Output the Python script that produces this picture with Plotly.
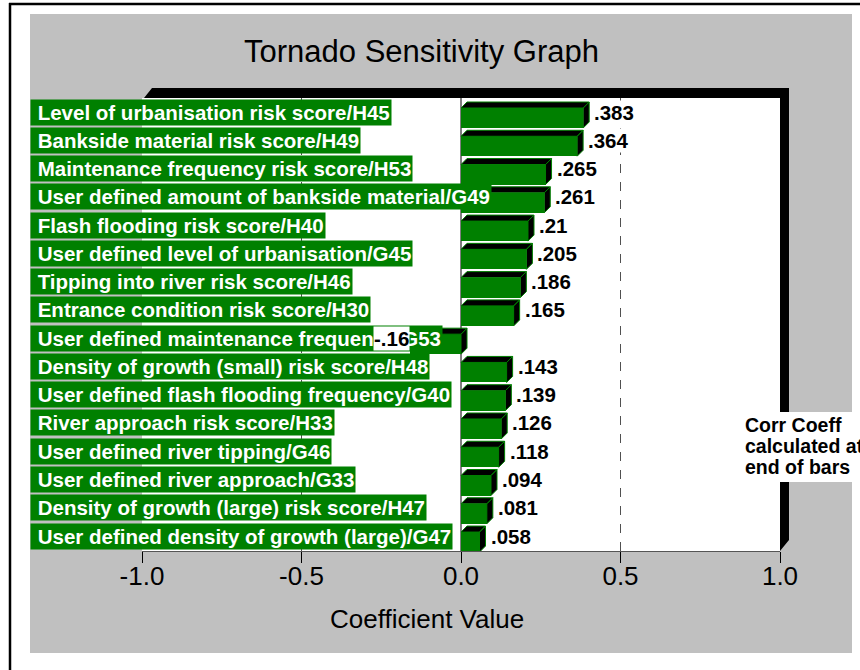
import plotly.graph_objects as go

# ---------------- data ----------------
labels = [
    "Level of urbanisation risk score/H45",
    "Bankside material risk score/H49",
    "Maintenance frequency risk score/H53",
    "User defined amount of bankside material/G49",
    "Flash flooding risk score/H40",
    "User defined level of urbanisation/G45",
    "Tipping into river risk score/H46",
    "Entrance condition risk score/H30",
    "User defined maintenance frequency/G53",
    "Density of growth (small) risk score/H48",
    "User defined flash flooding frequency/G40",
    "River approach risk score/H33",
    "User defined river tipping/G46",
    "User defined river approach/G33",
    "Density of growth (large) risk score/H47",
    "User defined density of growth (large)/G47",
]
values = [0.383, 0.364, 0.265, 0.261, 0.21, 0.205, 0.186, 0.165,
          -0.16, 0.143, 0.139, 0.126, 0.118, 0.094, 0.081, 0.058]
tick_vals = [-1.0, -0.5, 0.0, 0.5, 1.0]
tick_text = ["-1.0", "-0.5", "0.0", "0.5", "1.0"]
title_text = "Tornado Sensitivity Graph"
axis_title = "Coefficient Value"
note_lines = ["Corr Coeff", "calculated at", "end of bars"]

# ---------------- geometry / style ----------------
W, H = 860, 670
L, R, T, B = 142, 780, 98, 551          # plot area in pixels
GREEN = "#008000"
GRAY = "#C0C0C0"
FONT = "Arial, Liberation Sans, sans-serif"


def px(x):
    return (x - L) / (R - L)


def py(y):
    return (B - y) / (B - T)


n = len(labels)
idx = list(range(n))
row0, pitch = 112, 28.27
y_top = (T - row0) / pitch
y_bot = (B - row0) / pitch

xu = 2.0 / (R - L)          # x units per pixel
dx = 6 * xu
dy = 6 / pitch
bar_off = -4 / pitch
bar_w = 20 / pitch


def fmt(v):
    s = f"{v:.3g}"
    return s.replace("0.", ".", 1) if s.startswith(("0.", "-0.")) else s


fig = go.Figure()

# front faces
fig.add_trace(go.Bar(
    y=idx, x=values, orientation="h", width=bar_w, offset=bar_off,
    marker=dict(color=GREEN, line=dict(width=0)), hoverinfo="skip",
))

# 3D faces (top + side)
fx, fy = [], []
for i, v in zip(idx, values):
    t = i + bar_off
    b = t + bar_w
    x0, x1 = min(0, v), max(0, v)
    fx += [x0, x1, x1 + dx, x0 + dx, x0, None]
    fy += [t, t, t - dy, t - dy, t, None]
    fx += [x1, x1 + dx, x1 + dx, x1, x1, None]
    fy += [t, t - dy, b - dy, b, t, None]
fig.add_trace(go.Scatter(
    x=fx, y=fy, mode="lines", fill="toself", fillcolor="black",
    line=dict(color=GREEN, width=1), hoverinfo="skip", connectgaps=False,
))

shapes = []
# white surroundings and outer border
for (a, b_, c, d) in [(0, 0, 30, H), (0, 0, W, 14), (852, 0, W + 10, H), (0, 653, W, H + 10)]:
    shapes.append(dict(type="rect", xref="paper", yref="paper",
                       x0=px(a), x1=px(c), y0=py(b_), y1=py(d),
                       fillcolor="white", line=dict(width=0), layer="below"))
shapes.append(dict(type="line", xref="paper", yref="paper", x0=px(10), x1=px(10),
                   y0=py(3), y1=py(H + 5), line=dict(color="black", width=2.5)))
shapes.append(dict(type="line", xref="paper", yref="paper", x0=px(9), x1=px(W + 5),
                   y0=py(4), y1=py(4), line=dict(color="black", width=2.5)))
# grid lines
for gv in [-0.5, 0.5]:
    shapes.append(dict(type="line", xref="x", yref="paper", x0=gv, x1=gv, y0=0, y1=1,
                       line=dict(color="#505050", width=1, dash="dash"), layer="below"))
shapes.append(dict(type="line", xref="x", yref="paper", x0=0, x1=0, y0=0, y1=1,
                   line=dict(color="black", width=1), layer="below"))
# 3D black frame
pts = [(144, 98), (152, 88), (789, 88), (789, 540), (780, 551), (780, 98)]
path = "M " + " L ".join(f"{px(a):.5f},{py(b_):.5f}" for a, b_ in pts) + " Z"
shapes.append(dict(type="path", xref="paper", yref="paper", path=path,
                   fillcolor="black", line=dict(width=0), layer="above"))
# white box for the note
shapes.append(dict(type="rect", xref="paper", yref="paper",
                   x0=px(741), x1=px(W + 10), y0=py(412), y1=py(482),
                   fillcolor="white", line=dict(width=0), layer="above"))

annotations = []
# category labels
for i, lab in zip(idx, labels):
    annotations.append(dict(
        x=px(30), xref="paper", y=i, yref="y", xanchor="left", yanchor="middle",
        text="\u00a0" + lab, showarrow=False, bgcolor=GREEN, borderpad=1,
        font=dict(family=FONT, size=20.5, color="white", weight="bold"),
    ))
# value labels
for i, v in zip(idx, values):
    annotations.append(dict(
        x=v, xref="x", y=i, yref="y",
        xanchor="left" if v >= 0 else "right", yanchor="middle",
        xshift=10 if v >= 0 else 0,
        text=fmt(v), showarrow=False, bgcolor="white", borderpad=0,
        font=dict(family=FONT, size=20.5, color="black", weight="bold"),
    ))
# title / axis title
annotations.append(dict(x=px(421), y=py(52), xref="paper", yref="paper",
                        xanchor="center", yanchor="middle", text=title_text,
                        showarrow=False, font=dict(family=FONT, size=31, color="black")))
annotations.append(dict(x=px(427), y=py(619), xref="paper", yref="paper",
                        xanchor="center", yanchor="middle", text=axis_title,
                        showarrow=False, font=dict(family=FONT, size=26, color="black")))
# note
for k, line in enumerate(note_lines):
    annotations.append(dict(x=px(743), y=py(425 + 21 * k), xref="paper", yref="paper",
                            xanchor="left", yanchor="middle", text=line, showarrow=False,
                            font=dict(family=FONT, size=19.5, color="black", weight="bold")))

fig.update_layout(
    width=W, height=H,
    margin=dict(l=L, r=W - R, t=T, b=H - B, pad=0),
    paper_bgcolor=GRAY, plot_bgcolor="white",
    showlegend=False, bargap=0,
    xaxis=dict(range=[-1, 1], tickvals=tick_vals, ticktext=tick_text,
               ticks="outside", ticklen=11, tickcolor="black", tickwidth=1,
               showline=True, linecolor="#555555", linewidth=1,
               showgrid=False, zeroline=False, ticklabelstandoff=-9,
               tickfont=dict(family=FONT, size=26, color="black"), fixedrange=True),
    yaxis=dict(range=[y_bot, y_top], visible=False, fixedrange=True),
    shapes=shapes, annotations=annotations,
    hovermode=False,
)

fig.write_html("out.html", config={"displayModeBar": False},
               post_script="document.body.style.margin='0';document.body.style.overflow='hidden';")
